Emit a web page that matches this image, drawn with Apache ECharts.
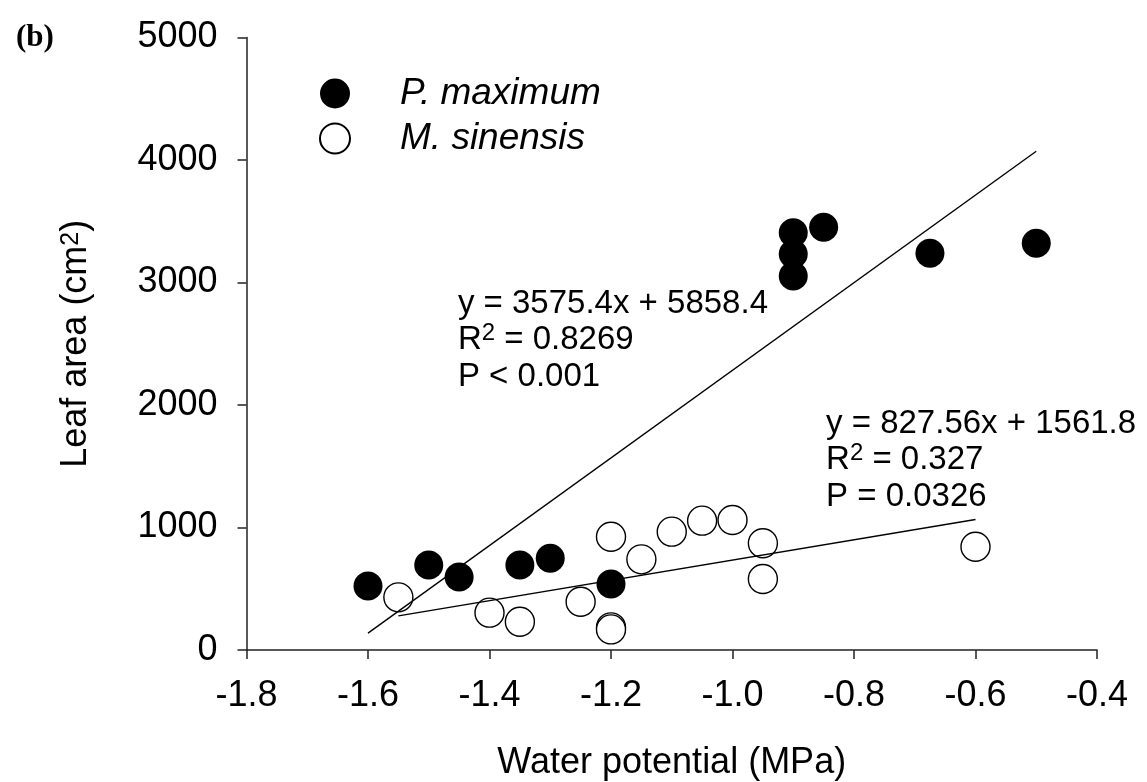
<!DOCTYPE html>
<html>
<head>
<meta charset="utf-8">
<script src="https://cdn.jsdelivr.net/npm/echarts@6/dist/echarts.min.js"></script>
<style>
html,body{margin:0;padding:0;background:#fff;}
#chart{width:1147px;height:782px;}
</style>
</head>
<body>
<div id="chart"></div>
<script>
// ---- data ----
const xTicks = [-1.8, -1.6, -1.4, -1.2, -1.0, -0.8, -0.6, -0.4];
const yTicks = [0, 1000, 2000, 3000, 4000, 5000];

const pMaxX = [-1.6, -1.5, -1.45, -1.35, -1.3, -1.2, -0.9, -0.9, -0.9, -0.85, -0.675, -0.5];
const pMaxY = [522, 694, 596, 694, 748, 539, 3407, 3233, 3053, 3451, 3238, 3320];

const mSinX = [-1.55, -1.4, -1.35, -1.25, -1.2, -1.2, -1.2, -1.15, -1.1, -1.05, -1.0, -0.95, -0.95, -0.6];
const mSinY = [430, 305, 231, 394, 925, 185, 168, 740, 966, 1056, 1061, 871, 580, 843];

// fitted lines (endpoints; y = 3575.4x + 5858.4 and y = 827.56x + 1561.8)
const pMaxFitX = [-1.6, -0.5];
const pMaxFitY = [138, 4071];
const mSinFitX = [-1.55, -0.6];
const mSinFitY = [279, 1065];

// annotation anchors (left-middle of each text block)
const eq1Anchor = [-1.452, 2531];
const eq2Anchor = [-0.846, 1551];

const zip = (xs, ys) => xs.map((x, i) => [x, ys[i]]);

const FONT = '"Liberation Sans", Arial, sans-serif';

const chart = echarts.init(document.getElementById('chart'), null, {renderer: 'canvas'});

const eqRich = {
  a: {fontSize: 33, lineHeight: 36.5, color: '#000', fontFamily: FONT},
  s: {fontSize: 24, lineHeight: 36.5, color: '#000', fontFamily: FONT, verticalAlign: 'top', padding: [0, 0, 0, 0]}
};

chart.setOption({
  animation: false,
  backgroundColor: '#fff',
  title: {
    text: '(b)', left: 11, top: 17,
    textStyle: {fontFamily: '"Liberation Serif", "Times New Roman", serif', fontWeight: 'bold', fontSize: 31, color: '#000'}
  },
  grid: {left: 246.5, right: 50, top: 37.5, bottom: 132, containLabel: false, outerBoundsMode: 'none'},
  legend: {
    left: 314, top: 70, orient: 'vertical',
    itemWidth: 30, itemHeight: 30, itemGap: 8,
    data: ['P. maximum', 'M. sinensis'],
    textStyle: {fontFamily: FONT, fontStyle: 'italic', fontSize: 37, color: '#000', padding: [0, 0, 0, 45]}
  },
  xAxis: {
    type: 'value', min: xTicks[0], max: xTicks[xTicks.length - 1], interval: 0.2,
    name: 'Water potential (MPa)', nameLocation: 'middle', nameGap: 95,
    nameTextStyle: {fontFamily: FONT, fontSize: 36, color: '#000'},
    axisLine: {show: true, onZero: false, lineStyle: {color: '#222', width: 1.5}},
    axisTick: {show: true, inside: false, length: 9, lineStyle: {color: '#222', width: 1.5}},
    axisLabel: {fontFamily: FONT, fontSize: 36, color: '#000', margin: 28, formatter: v => v.toFixed(1)},
    splitLine: {show: false}
  },
  yAxis: {
    type: 'value', min: yTicks[0], max: yTicks[yTicks.length - 1], interval: 1000,
    name: 'Leaf area (cm{s|2})', nameLocation: 'middle', nameGap: 152,
    nameTextStyle: {fontFamily: FONT, fontSize: 36, color: '#000',
      rich: {s: {fontFamily: FONT, fontSize: 25, color: '#000', verticalAlign: 'top', lineHeight: 36}}},
    axisLine: {show: true, onZero: false, lineStyle: {color: '#222', width: 1.5}},
    axisTick: {show: true, inside: false, length: 9, lineStyle: {color: '#222', width: 1.5}},
    axisLabel: {fontFamily: FONT, fontSize: 36, color: '#000', margin: 29, formatter: v => String(v)},
    splitLine: {show: false}
  },
  series: [
    {
      name: 'M. sinensis', type: 'scatter', symbol: 'circle', symbolSize: 29,
      itemStyle: {color: '#fff', borderColor: '#000', borderWidth: 1.4, opacity: 1},
      data: zip(mSinX, mSinY), z: 2
    },
    {
      name: 'P. maximum', type: 'scatter', symbol: 'circle', symbolSize: 29,
      itemStyle: {color: '#000', borderColor: '#000', borderWidth: 0, opacity: 1},
      data: zip(pMaxX, pMaxY), z: 3
    },
    {
      name: 'fitP', type: 'line', showSymbol: false, symbol: 'none',
      lineStyle: {color: '#000', width: 1.4}, data: zip(pMaxFitX, pMaxFitY), z: 4, silent: true
    },
    {
      name: 'fitM', type: 'line', showSymbol: false, symbol: 'none',
      lineStyle: {color: '#000', width: 1.4}, data: zip(mSinFitX, mSinFitY), z: 4, silent: true
    },
    {
      name: 'eq', type: 'scatter', symbolSize: 0, silent: true, z: 5,
      data: [
        {value: eq1Anchor, label: {formatter: '{a|y = 3575.4x + 5858.4}\n{a|R}{s|2}{a| = 0.8269}\n{a|P < 0.001}'}},
        {value: eq2Anchor, label: {formatter: '{a|y = 827.56x + 1561.8}\n{a|R}{s|2}{a| = 0.327}\n{a|P = 0.0326}'}}
      ],
      label: {show: true, position: 'right', distance: 0, align: 'left', verticalAlign: 'middle',
        color: '#000', opacity: 1, rich: eqRich}
    }
  ]
});
</script>
</body>
</html>
